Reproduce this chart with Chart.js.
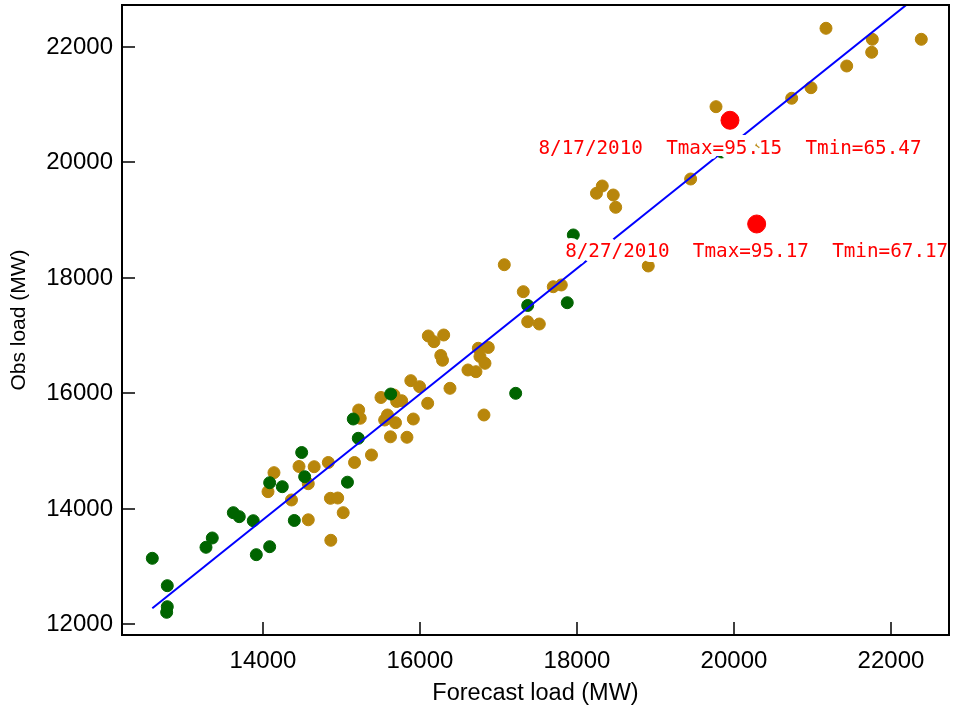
<!DOCTYPE html>
<html>
<head>
<meta charset="utf-8">
<script src="https://cdn.jsdelivr.net/npm/chart.js@4.4.1/dist/chart.umd.min.js"></script>
<style>
  html, body { margin: 0; padding: 0; background: #fff; }
  #wrap { width: 954px; height: 710px; }
</style>
</head>
<body>
<div id="wrap"><canvas id="chart" width="954" height="710"></canvas></div>
<script>
// Диапазоны осей и подписи делений
const xMin = 12204;
const xMax = 22739;
const yMin = 11818;
const yMax = 22727;
const xTicks = [14000, 16000, 18000, 20000, 22000];
const yTicks = [12000, 14000, 16000, 18000, 20000, 22000];

// Зелёные точки: прогноз / факт, МВт
const greenFcst = [12590, 12781, 12781, 12773, 13274, 13354, 13622, 13698, 13876, 13915,
  14085, 14085, 14246, 14399, 14493, 14531, 15076, 15150, 15214, 15627,
  17219, 17372, 17876, 17953, 18185, 19843];
const greenObs = [13146, 12672, 12308, 12211, 13337, 13498, 13936, 13867, 13797, 13209,
  13347, 14455, 14386, 13801, 14978, 14559, 14464, 15558, 15224, 15991,
  16003, 17524, 17572, 18745, 18459, 20182];

// Золотистые точки
const goldFcst = [14064, 14140, 14363, 14577, 14459, 14577, 14652, 14832, 14859, 14952,
  14864, 15022, 15166, 15382, 15624, 15834, 15219, 15239, 15503, 15669,
  15703, 15767, 15550, 15586, 15688, 15883, 15995, 16098, 15915, 16106,
  16178, 16302, 16265, 16287, 16382, 16611, 16713, 16743, 16870, 16764,
  16828, 16815, 17074, 17316, 17372, 17520, 17698, 17800, 18248, 18322,
  18462, 18493, 18908, 19448, 19771, 20353, 20735, 20981, 21172, 21436,
  21762, 21754, 22386];
const goldObs = [14300, 14629, 14156, 13813, 14736, 14438, 14732, 14805, 14185, 14190,
  13458, 13936, 14805, 14935, 15250, 15242, 15714, 15571, 15931, 15974,
  15861, 15875, 15541, 15628, 15494, 16222, 16118, 15830, 15558, 16996,
  16897, 17013, 16658, 16575, 16090, 16407, 16377, 16783, 16797, 16641,
  16523, 15628, 18230, 17763, 17243, 17203, 17849, 17879, 19467, 19593,
  19437, 19224, 18208, 19714, 20966, 20274, 21112, 21295, 22324, 21671,
  22133, 21908, 22133];

// Выделенные дни
const hotDates = ['8/17/2010', '8/27/2010'];
const hotFcst = [19949, 20289];
const hotObs = [20731, 18935];
const hotTmax = ['95.15', '95.17'];
const hotTmin = ['65.47', '67.17'];

// Линия регрессии (концы)
const fitFcst = [12590, 22386];
const fitObs = [12281, 22936];

const toPoints = (xs, ys) => xs.map((x, i) => ({ x, y: ys[i] }));

const FONT = '"Liberation Sans", Arial, sans-serif';

// Подписи у выделенных точек, с белой обводкой как в оригинале
const hotLabels = {
  id: 'hotLabels',
  afterDatasetsDraw(chart) {
    const { ctx, scales: { x, y } } = chart;
    ctx.save();
    ctx.font = '19.3px "DejaVu Sans Mono", monospace';
    ctx.textAlign = 'center';
    ctx.textBaseline = 'alphabetic';
    ctx.lineJoin = 'round';
    hotDates.forEach((d, i) => {
      const text = `${d}  Tmax=${hotTmax[i]}  Tmin=${hotTmin[i]}`;
      const px = x.getPixelForValue(hotFcst[i]);
      const py = y.getPixelForValue(hotObs[i]) + 33.5;
      ctx.strokeStyle = '#ffffff';
      ctx.lineWidth = 10;
      ctx.strokeText(text, px, py);
      ctx.fillStyle = '#ff0000';
      ctx.fillText(text, px, py);
    });
    ctx.restore();
  },
};

// Рамка и деления внутрь
const frameTicks = {
  id: 'frameTicks',
  afterDraw(chart) {
    const { ctx, chartArea: a, scales: { x, y } } = chart;
    const len = 13;
    ctx.save();
    ctx.strokeStyle = '#000';
    ctx.lineWidth = 1.5;
    ctx.beginPath();
    x.ticks.forEach((t) => {
      const px = Math.round(x.getPixelForValue(t.value));
      ctx.moveTo(px, a.bottom);
      ctx.lineTo(px, a.bottom - len);
    });
    y.ticks.forEach((t) => {
      const py = Math.round(y.getPixelForValue(t.value));
      ctx.moveTo(a.left, py);
      ctx.lineTo(a.left + len, py);
    });
    ctx.stroke();
    ctx.lineWidth = 2;
    ctx.strokeRect(a.left, a.top, a.right - a.left, a.bottom - a.top);
    ctx.restore();
  },
};

const ctx = document.getElementById('chart').getContext('2d');
// eslint-disable-next-line no-undef
new Chart(ctx, {
  type: 'scatter',
  data: {
    datasets: [
      {
        order: 0,
        showLine: true,
        data: toPoints(fitFcst, fitObs),
        borderColor: '#0000ff',
        borderWidth: 2,
        pointRadius: 0,
      },
      {
        order: 1,
        data: toPoints(hotFcst, hotObs),
        backgroundColor: '#ff0000',
        borderColor: '#ff0000',
        pointRadius: 9,
        pointBorderWidth: 1,
      },
      {
        order: 2,
        data: toPoints(greenFcst, greenObs),
        backgroundColor: '#006400',
        borderColor: '#006400',
        pointRadius: 6,
        pointBorderWidth: 1,
      },
      {
        order: 3,
        data: toPoints(goldFcst, goldObs),
        backgroundColor: '#b8860b',
        borderColor: '#b8860b',
        pointRadius: 6,
        pointBorderWidth: 1,
      },
    ],
  },
  options: {
    responsive: false,
    devicePixelRatio: 1,
    animation: false,
    events: [],
    layout: {
      autoPadding: false,
      padding: { left: 0, right: 5, top: 5, bottom: 0 },
    },
    plugins: {
      legend: { display: false },
      tooltip: { enabled: false },
    },
    scales: {
      x: {
        type: 'linear',
        min: xMin,
        max: xMax,
        afterBuildTicks: (s) => { s.ticks = xTicks.map((v) => ({ value: v })); },
        afterFit: (s) => {
          s.height = 75;
          s.paddingLeft = 0;
          s.paddingRight = 0;
        },
        grid: { display: false, drawTicks: false },
        border: { display: false },
        ticks: {
          color: '#000',
          font: { family: FONT, size: 24 },
          padding: 12,
          maxRotation: 0,
          callback: (v) => String(v),
        },
        title: {
          display: true,
          text: 'Forecast load (MW)',
          color: '#000',
          font: { family: FONT, size: 23.5 },
          padding: { top: 0, bottom: 2 },
        },
      },
      y: {
        type: 'linear',
        min: yMin,
        max: yMax,
        afterBuildTicks: (s) => { s.ticks = yTicks.map((v) => ({ value: v })); },
        afterFit: (s) => {
          s.width = 122;
          s.paddingTop = 0;
          s.paddingBottom = 0;
        },
        grid: { display: false, drawTicks: false },
        border: { display: false },
        ticks: {
          color: '#000',
          font: { family: FONT, size: 24 },
          padding: 9,
          callback: (v) => String(v),
        },
        title: {
          display: true,
          text: 'Obs load (MW)',
          color: '#000',
          font: { family: FONT, size: 21 },
          padding: { top: 7, bottom: 0 },
        },
      },
    },
  },
  plugins: [hotLabels, frameTicks],
});
</script>
</body>
</html>
